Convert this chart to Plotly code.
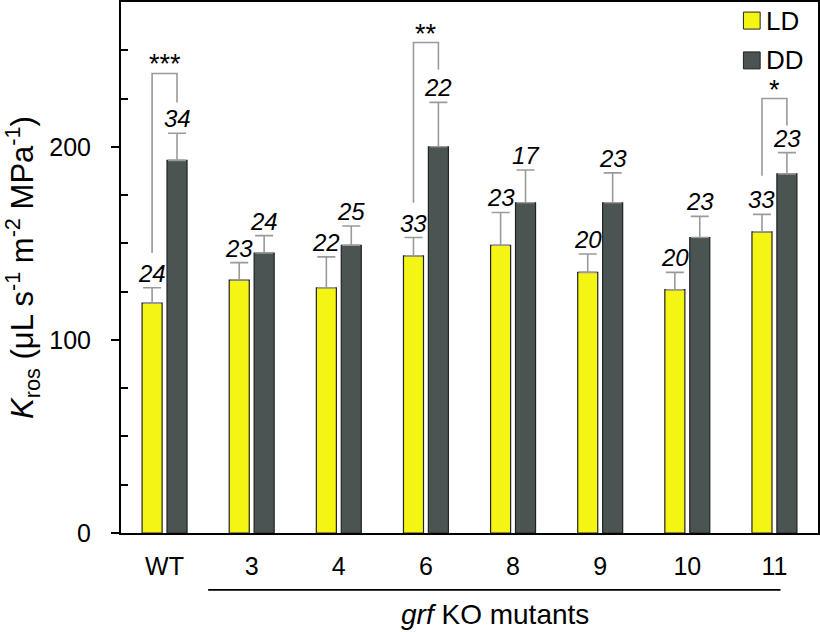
import plotly.graph_objects as go

categories = ["WT", "3", "4", "6", "8", "9", "10", "11"]
ld_values = [119, 131, 127, 143.5, 149, 135, 126, 156]
ld_err = [8, 9, 16, 9.5, 17, 9.5, 9, 9]
dd_values = [193, 145, 149, 200, 171, 171, 153, 186]
dd_err = [14, 9, 10, 23, 17, 15.5, 11, 11]
ld_n = ["24", "23", "22", "33", "23", "20", "20", "33"]
dd_n = ["34", "24", "25", "22", "17", "23", "23", "23"]
series_names = ["LD", "DD"]

# significance brackets: (category index, top, LD leg bottom, DD leg bottom, label)
sig_idx = [0, 3, 7]
sig_top = [238, 254, 225]
sig_ld_bottom = [145, 171, 185]
sig_dd_bottom = [223, 240, 211]
sig_label = ["***", "**", "*"]

LD_COLOR = "#f5f514"
DD_COLOR = "#4a5452"
ERR_COLOR = "#9a9a9a"
BW = 0.23
OFF_LD = -0.258
OFF_DD = 0.028

x = list(range(len(categories)))

fig = go.Figure()
fig.add_trace(go.Bar(
    x=x, y=ld_values, name=series_names[0], width=BW, offset=OFF_LD,
    marker=dict(color=LD_COLOR, line=dict(color="#222222", width=1.2)),
    error_y=dict(type="data", array=ld_err, arrayminus=[0]*len(x), symmetric=False,
                 color=ERR_COLOR, thickness=1.6, width=9),
))
fig.add_trace(go.Bar(
    x=x, y=dd_values, name=series_names[1], width=BW, offset=OFF_DD,
    marker=dict(color=DD_COLOR, line=dict(color="#222222", width=1.2)),
    error_y=dict(type="data", array=dd_err, arrayminus=[0]*len(x), symmetric=False,
                 color=ERR_COLOR, thickness=1.6, width=9),
))

ld_c = OFF_LD + BW / 2
dd_c = OFF_DD + BW / 2
annotations = []
for i in x:
    annotations.append(dict(x=i + ld_c, y=ld_values[i] + ld_err[i], text=f"<i>{ld_n[i]}</i>",
                            showarrow=False, yanchor="bottom", yshift=-1,
                            font=dict(size=24, color="black")))
    annotations.append(dict(x=i + dd_c, y=dd_values[i] + dd_err[i], text=f"<i>{dd_n[i]}</i>",
                            showarrow=False, yanchor="bottom", yshift=-1,
                            font=dict(size=24, color="black")))

shapes = []
for k, i in enumerate(sig_idx):
    xl = i + ld_c
    xr = i + dd_c
    shapes.append(dict(type="path",
                       path=f"M {xl} {sig_ld_bottom[k]} L {xl} {sig_top[k]} L {xr} {sig_top[k]} L {xr} {sig_dd_bottom[k]}",
                       xref="x", yref="y", line=dict(color=ERR_COLOR, width=1.6)))
    annotations.append(dict(x=(xl + xr) / 2, y=sig_top[k], text=sig_label[k], showarrow=False,
                            yanchor="bottom", yshift=-8, font=dict(size=27, color="black")))

# manual legend (swatches + labels) in paper coordinates
leg_colors = [LD_COLOR, DD_COLOR]
leg_y = [0.965, 0.89]
for name, col, yy in zip(series_names, leg_colors, leg_y):
    shapes.append(dict(type="rect", xref="paper", yref="paper",
                       x0=0.893, x1=0.917, y0=yy - 0.016, y1=yy + 0.016,
                       fillcolor=col, line=dict(color="#222222", width=1)))
    annotations.append(dict(x=0.923, y=yy, xref="paper", yref="paper", text=name,
                            showarrow=False, xanchor="left", yanchor="middle",
                            font=dict(size=26, color="black")))

# grf KO mutants bracket line and label
shapes.append(dict(type="line", xref="x", yref="paper", x0=0.5, x1=7.07, y0=-0.107, y1=-0.107,
                   line=dict(color="black", width=1.8)))
annotations.append(dict(x=3.79, y=-0.154, xref="x", yref="paper", text="<i>grf</i> KO mutants",
                        showarrow=False, yanchor="middle", font=dict(size=28, color="black")))

fig.update_layout(
    width=820, height=632,
    margin=dict(l=121, r=2, t=2, b=99),
    paper_bgcolor="white", plot_bgcolor="white",
    font=dict(family="Liberation Sans, Arial, sans-serif", color="black"),
    barmode="overlay",
    showlegend=False,
    annotations=annotations,
    shapes=shapes,
)
fig.update_xaxes(
    range=[-0.5, 7.5], tickmode="array", tickvals=x, ticktext=categories,
    showline=True, linecolor="black", linewidth=2, mirror=True, automargin=False,
    ticks="", tickfont=dict(size=25), ticklabelstandoff=10, showgrid=False, zeroline=False,
)
fig.update_yaxes(
    range=[0, 275], tickvals=[0, 100, 200], automargin=False,
    showline=True, linecolor="black", linewidth=2, mirror=True,
    ticks="outside", ticklen=8, tickwidth=1.8, tickcolor="black",
    tickfont=dict(size=25), ticklabelstandoff=15,
    minor=dict(tickvals=[25, 50, 75, 125, 150, 175, 225, 250], ticks="inside", ticklen=7,
               tickwidth=1.8, tickcolor="black", showgrid=False),
    showgrid=False, zeroline=False,
    title=dict(text="<i>K</i><sub>ros</sub> (μL s<sup>-1</sup> m<sup>-2</sup> MPa<sup>-1</sup>)",
               font=dict(size=31), standoff=13),
)

fig.write_html("out.html", config={"displayModeBar": False},
               post_script="document.body.style.margin='0';document.body.style.overflow='hidden';")
